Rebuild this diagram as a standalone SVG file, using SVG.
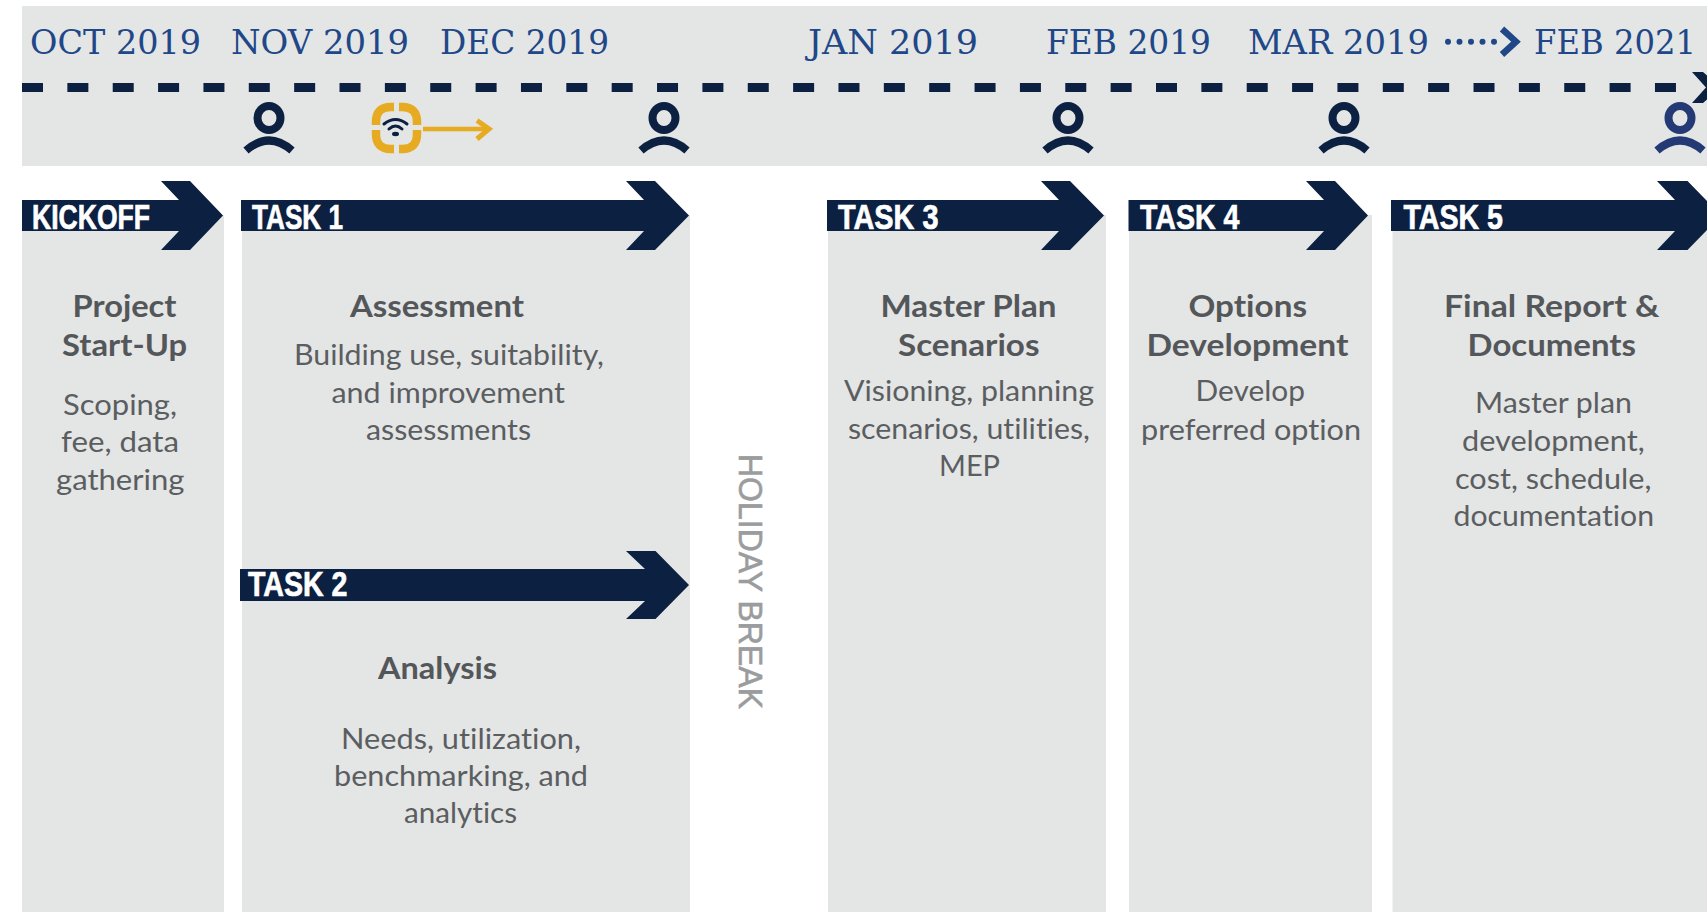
<svg xmlns="http://www.w3.org/2000/svg" width="1707" height="912" viewBox="0 0 1707 912">
<style>
.panel{fill:#e4e5e5}
.date{font-family:"DejaVu Serif",serif;font-size:34px;fill:#204787}
.task{font-family:"Liberation Sans",Arial,sans-serif;font-weight:700;font-size:35px;fill:#fff;stroke:#fff;stroke-width:.7}
.arrow{fill:#0c2041}
.h{font-family:Lato,"Noto Sans",sans-serif;font-weight:700;font-size:30px;fill:#54575a;font-variant-ligatures:none}
.b{font-family:Lato,"Noto Sans",sans-serif;font-weight:400;font-size:29.5px;fill:#5b5e61;font-variant-ligatures:none}
.pers{fill:none;stroke:#0c2041;stroke-width:8}
.wifi{fill:none;stroke:#0c2041;stroke-width:3;stroke-linecap:round}
</style>
<defs>
<g id="person">
<ellipse cx="0" cy="0" rx="11.500" ry="12" class="pers"/>
<path d="M-23 32.500Q0 12.500 23 32.500" class="pers"/>
</g>
</defs>
<rect width="1707" height="912" fill="#fff"/>
<g id="panels">
<rect class="panel" x="22" y="6" width="1685" height="160"/>
<rect class="panel" x="22" y="215" width="202" height="697"/>
<rect class="panel" x="242" y="215" width="448" height="697"/>
<rect class="panel" x="828" y="215" width="278" height="697"/>
<rect class="panel" x="1129" y="215" width="243" height="697"/>
<rect class="panel" x="1392.500" y="215" width="314.500" height="697"/>
</g>
<g id="connectors">
<path id="timeline" d="M22 87.500H1695" fill="none" stroke="#0c2041" stroke-width="9" stroke-dasharray="21 24.360"/>
<polygon class="arrow" points="1692,72 1703,72 1721,87.500 1703,103 1692,103 1706,87.500"/>
<g fill="#204787">
<circle cx="1448" cy="41.700" r="3"/><circle cx="1459.500" cy="41.700" r="3"/><circle cx="1471" cy="41.700" r="3"/><circle cx="1482.500" cy="41.700" r="3"/><circle cx="1494" cy="41.700" r="3"/>
</g>
<path d="M1502 29L1516 41.700L1502 54.500" fill="none" stroke="#204787" stroke-width="6.500"/>
<path d="M423 129H489" fill="none" stroke="#e7ab21" stroke-width="4.600"/>
<path d="M477 120.500L489 129L477 139" fill="none" stroke="#e7ab21" stroke-width="5"/>
</g>
<g id="dates">
<text class="date" x="30" y="53.500" textLength="171" lengthAdjust="spacingAndGlyphs">OCT 2019</text>
<text class="date" x="231" y="53.500" textLength="178" lengthAdjust="spacingAndGlyphs">NOV 2019</text>
<text class="date" x="440" y="53.500" textLength="169" lengthAdjust="spacingAndGlyphs">DEC 2019</text>
<text class="date" x="808" y="53.500" textLength="170" lengthAdjust="spacingAndGlyphs">JAN 2019</text>
<text class="date" x="1046" y="53.500" textLength="165" lengthAdjust="spacingAndGlyphs">FEB 2019</text>
<text class="date" x="1248" y="53.500" textLength="181" lengthAdjust="spacingAndGlyphs">MAR 2019</text>
<text class="date" x="1534" y="53.500" textLength="162" lengthAdjust="spacingAndGlyphs">FEB 2021</text>
</g>
<g id="person-1"><use href="#person" x="269" y="118"/></g>
<g id="person-2"><use href="#person" x="664" y="118"/></g>
<g id="person-3"><use href="#person" x="1068" y="118"/></g>
<g id="person-4"><use href="#person" x="1344" y="118"/></g>
<g id="person-5"><ellipse cx="1680" cy="118" rx="11.500" ry="12" fill="none" stroke="#233a75" stroke-width="8"/><path d="M1657 150.500Q1680 130.500 1703 150.500" fill="none" stroke="#233a75" stroke-width="8"/></g>
<g id="sensor">
<path d="M394 107H391Q376 107 376 122V125M376 130V134Q376 149 391 149H394M399 149H402Q417 149 417 134V130M417 125V122Q417 107 402 107H399" fill="none" stroke="#e7ab21" stroke-width="8.500"/>
<path class="wifi" d="M384 124Q395.500 115 407 124"/>
<path class="wifi" d="M389 129Q395.500 123 402 129"/>
<ellipse cx="395.500" cy="134" rx="3.500" ry="2.200" fill="#0c2041"/>
</g>
<g id="kickoff">
<polygon class="arrow" points="22,200 179,200 161,181 190,181 223,215.500 190,250 161,250 179,231 22,231"/>
<text class="task" x="32" y="229" textLength="118" lengthAdjust="spacingAndGlyphs">KICKOFF</text>
<text class="h" x="72.500" y="317" textLength="104" lengthAdjust="spacingAndGlyphs">Project</text>
<text class="h" x="62" y="355.700" textLength="125" lengthAdjust="spacingAndGlyphs">Start-Up</text>
<text class="b" x="63" y="415" textLength="114" lengthAdjust="spacingAndGlyphs">Scoping,</text>
<text class="b" x="61" y="452" textLength="118" lengthAdjust="spacingAndGlyphs">fee, data</text>
<text class="b" x="56" y="490" textLength="128.500" lengthAdjust="spacingAndGlyphs">gathering</text>
</g>
<g id="task-1">
<polygon class="arrow" points="241,200 644,200 626,181 655,181 689,215.500 655,250 626,250 644,231 241,231"/>
<text class="task" x="252" y="229" textLength="91" lengthAdjust="spacingAndGlyphs">TASK 1</text>
<text class="h" x="350" y="317" textLength="174" lengthAdjust="spacingAndGlyphs">Assessment</text>
<text class="b" x="294" y="364.500" textLength="310" lengthAdjust="spacingAndGlyphs">Building use, suitability,</text>
<text class="b" x="331.500" y="402.500" textLength="233.500" lengthAdjust="spacingAndGlyphs">and improvement</text>
<text class="b" x="366" y="439.500" textLength="165" lengthAdjust="spacingAndGlyphs">assessments</text>
</g>
<g id="task-2">
<polygon class="arrow" points="240,569 645,569 626,551 655.500,551 689,585 655.500,619 626,619 645,601 240,601"/>
<text class="task" x="248" y="595.500" textLength="99.500" lengthAdjust="spacingAndGlyphs">TASK 2</text>
<text class="h" x="378" y="679" textLength="119" lengthAdjust="spacingAndGlyphs">Analysis</text>
<text class="b" x="341" y="749" textLength="240" lengthAdjust="spacingAndGlyphs">Needs, utilization,</text>
<text class="b" x="334" y="786" textLength="254" lengthAdjust="spacingAndGlyphs">benchmarking, and</text>
<text class="b" x="404" y="823" textLength="113" lengthAdjust="spacingAndGlyphs">analytics</text>
</g>
<g id="holiday-break">
<text transform="translate(739 454) rotate(90)" font-family="'Liberation Sans',Arial,sans-serif" font-size="33" fill="#9a9c9e" stroke="#9a9c9e" stroke-width=".6" textLength="255" lengthAdjust="spacingAndGlyphs">HOLIDAY BREAK</text>
</g>
<g id="task-3">
<polygon class="arrow" points="827,200 1059,200 1041,181 1070,181 1104,215.500 1070,250 1041,250 1059,231 827,231"/>
<text class="task" x="838" y="229" textLength="100.500" lengthAdjust="spacingAndGlyphs">TASK 3</text>
<text class="h" x="880.500" y="317" textLength="176" lengthAdjust="spacingAndGlyphs">Master Plan</text>
<text class="h" x="898" y="355.700" textLength="141.500" lengthAdjust="spacingAndGlyphs">Scenarios</text>
<text class="b" x="844" y="401.200" textLength="250" lengthAdjust="spacingAndGlyphs">Visioning, planning</text>
<text class="b" x="848" y="439" textLength="242" lengthAdjust="spacingAndGlyphs">scenarios, utilities,</text>
<text class="b" x="939" y="476" textLength="61" lengthAdjust="spacingAndGlyphs">MEP</text>
</g>
<g id="task-4">
<polygon class="arrow" points="1128.500,200 1324,200 1306,181 1335,181 1368,215.500 1335,250 1306,250 1324,231 1128.500,231"/>
<text class="task" x="1140" y="229" textLength="99.300" lengthAdjust="spacingAndGlyphs">TASK 4</text>
<text class="h" x="1188.500" y="317" textLength="118.500" lengthAdjust="spacingAndGlyphs">Options</text>
<text class="h" x="1146.500" y="355.700" textLength="202" lengthAdjust="spacingAndGlyphs">Development</text>
<text class="b" x="1195.600" y="401.200" textLength="109.400" lengthAdjust="spacingAndGlyphs">Develop</text>
<text class="b" x="1141" y="439.500" textLength="220" lengthAdjust="spacingAndGlyphs">preferred option</text>
</g>
<g id="task-5">
<polygon class="arrow" points="1391,200 1675,200 1657,181 1687.500,181 1721,215.500 1687.500,250 1657,250 1675,231 1391,231"/>
<text class="task" x="1403.500" y="229" textLength="99.500" lengthAdjust="spacingAndGlyphs">TASK 5</text>
<text class="h" x="1444" y="317" textLength="215.400" lengthAdjust="spacingAndGlyphs">Final Report &amp;</text>
<text class="h" x="1467.600" y="355.700" textLength="168.400" lengthAdjust="spacingAndGlyphs">Documents</text>
<text class="b" x="1475" y="413" textLength="157" lengthAdjust="spacingAndGlyphs">Master plan</text>
<text class="b" x="1462" y="451" textLength="182.600" lengthAdjust="spacingAndGlyphs">development,</text>
<text class="b" x="1455" y="488.500" textLength="196.400" lengthAdjust="spacingAndGlyphs">cost, schedule,</text>
<text class="b" x="1453.500" y="525.500" textLength="200.500" lengthAdjust="spacingAndGlyphs">documentation</text>
</g>
</svg>
